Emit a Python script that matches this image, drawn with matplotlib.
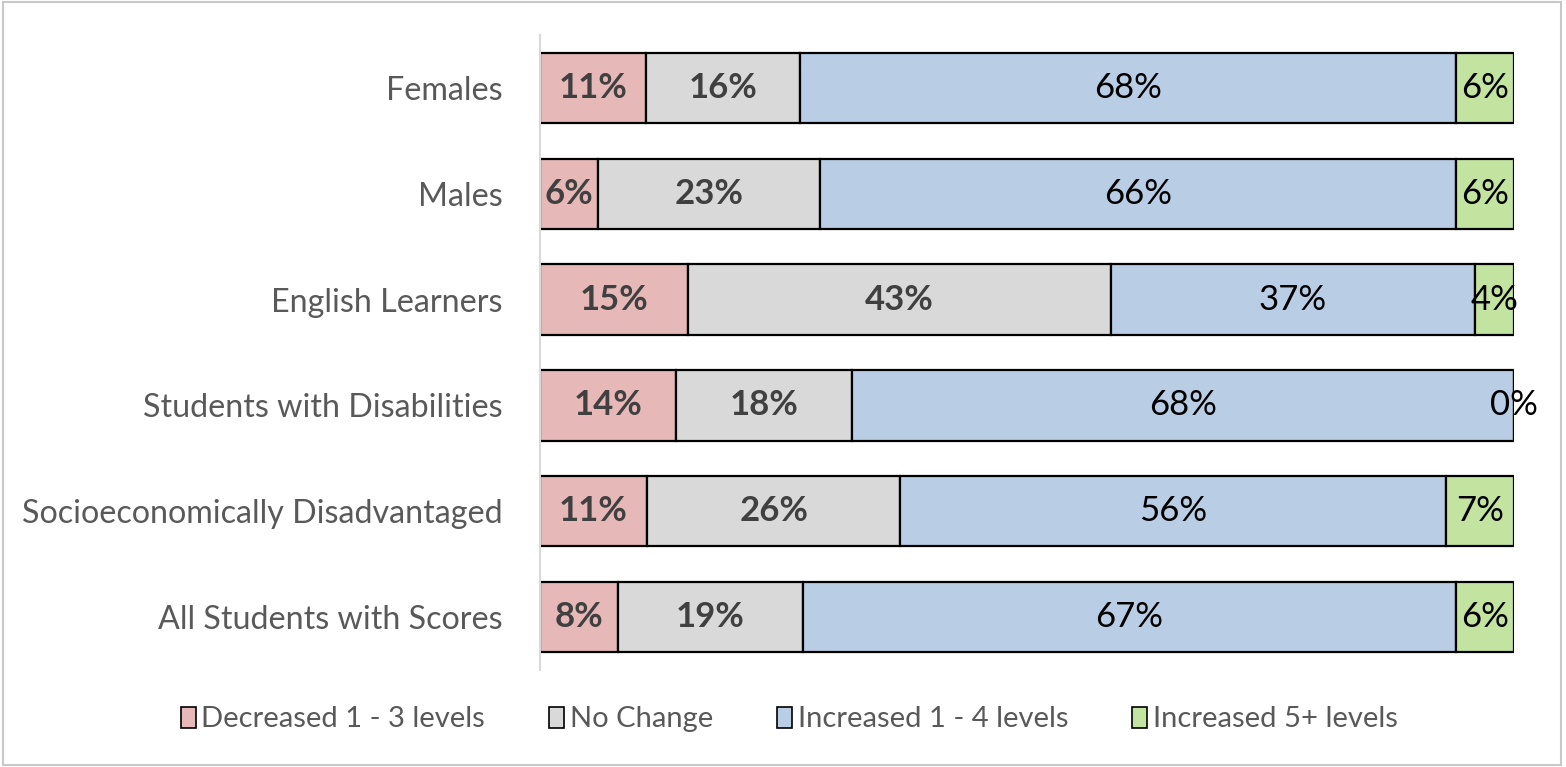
import matplotlib
matplotlib.use("Agg")
import matplotlib.pyplot as plt
from matplotlib.patches import Patch, Rectangle
import numpy as np

categories = ["Females", "Males", "English Learners", "Students with Disabilities",
              "Socioeconomically Disadvantaged", "All Students with Scores"]
series_names = ["Decreased 1 - 3 levels", "No Change", "Increased 1 - 4 levels", "Increased 5+ levels"]
decreased = [11, 6, 15, 14, 11, 8]
no_change = [16, 23, 43, 18, 26, 19]
increased_1_4 = [68, 66, 37, 68, 56, 67]
increased_5 = [6, 6, 4, 0, 7, 6]

colors = ["#E6B9B8", "#D9D9D9", "#B9CDE5", "#C3E3A1"]
label_colors = ["#404040", "#404040", "#000000", "#000000"]
label_weights = ["bold", "bold", "normal", "normal"]

FONT = "Lato"
plt.rcParams["font.family"] = [FONT, "DejaVu Sans"]

fig = plt.figure(figsize=(15.66, 7.67), dpi=100)
fig.patches.append(Rectangle((0.002, 0.003), 0.995, 0.994, transform=fig.transFigure,
                             fill=False, edgecolor="#C8C8C8", linewidth=1.5))
ax = fig.add_axes([0.3448, 0.1265, 0.6220, 0.8279])

data = np.array([decreased, no_change, increased_1_4, increased_5], dtype=float)
totals = data.sum(axis=0)
y = np.arange(len(categories))[::-1]
left = np.zeros(len(categories))
for i, name in enumerate(series_names):
    widths = data[i] / totals * 100
    bars = ax.barh(y, widths, left=left, height=0.665, color=colors[i],
                   edgecolor="black", linewidth=1.6, label=name)
    ax.bar_label(bars, labels=[f"{int(v)}%" for v in data[i]], label_type="center",
                 fontsize=25, fontweight=label_weights[i], color=label_colors[i])
    left += widths

ax.set_xlim(0, 100)
ax.set_ylim(-0.5, 5.5)
ax.set_yticks(y)
ax.set_yticklabels(categories, fontsize=23.2, color="#595959")
ax.tick_params(axis="y", length=0, pad=27)
ax.set_xticks([])
for s in ["top", "right", "bottom"]:
    ax.spines[s].set_visible(False)
ax.spines["left"].set_color("#D9D9D9")
ax.spines["left"].set_linewidth(1.5)

handles = [Patch(facecolor=c, edgecolor="black", linewidth=1.2) for c in colors]
fig.legend(handles, series_names, loc="center", bbox_to_anchor=(0.504, 0.062), ncol=4,
           frameon=False, fontsize=21, labelcolor="#595959", handlelength=0.5,
           handleheight=0.75, handletextpad=0.2, columnspacing=2.2)

fig.savefig("out.png", dpi=100)
